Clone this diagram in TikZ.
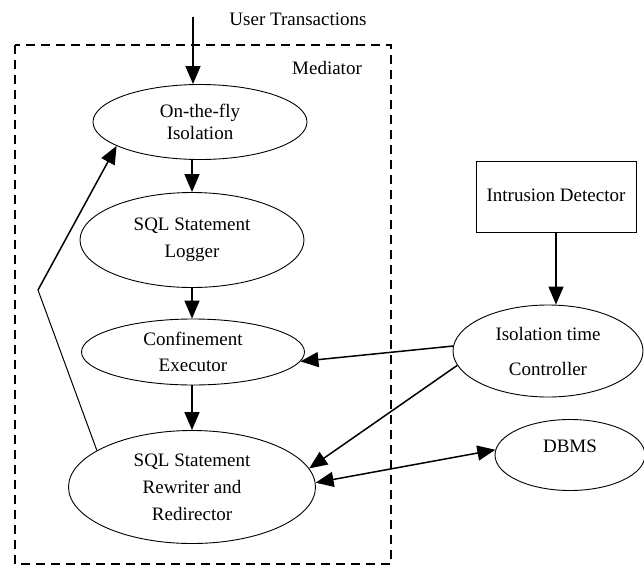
\documentclass[tikz,border=0pt]{standalone}
\usepackage{fontspec}
\setmainfont{Liberation Serif}
\usetikzlibrary{shapes.geometric,arrows.meta}

\begin{document}
\begin{tikzpicture}[x=1pt,y=-1pt,
  ell/.style={ellipse,draw,line width=0.9pt,inner sep=0pt,align=center},
  tip/.style={Triangle[length=18pt,width=15pt]},
  arr/.style={line width=1.5pt,-{Triangle[length=18pt,width=15pt]}},
  dblarr/.style={line width=1.5pt,{Triangle[length=18pt,width=15pt]}-{Triangle[length=18pt,width=15pt]}},
  txt/.style={font=\fontsize{19}{22}\selectfont},
  mediatorbox/.style={draw,line width=1.8pt,dash pattern=on 9pt off 6pt}]

\useasboundingbox (0,0) rectangle (644,567);

% the dashed mediator frame and its labels
\draw[mediatorbox] (15,45) rectangle (391,564);
\node[txt] (ut) at (298,19) {User Transactions};
\node[txt] (med) at (327,68) {Mediator};

% components inside the mediator
\node[ell,minimum width=214pt,minimum height=75pt,font=\fontsize{19}{22}\selectfont] (e1) at (200,122) {On-the-fly\\Isolation};
\node[ell,minimum width=224pt,minimum height=95pt,font=\fontsize{19}{27}\selectfont] (e2) at (192,240) {SQL Statement\\Logger};
\node[ell,minimum width=223pt,minimum height=66pt,font=\fontsize{19}{26}\selectfont] (e3) at (193,352) {Confinement\\Executor};
\node[ell,minimum width=247pt,minimum height=113pt,font=\fontsize{19}{27}\selectfont] (e4) at (192,487) {SQL Statement\\Rewriter and\\Redirector};

% external components
\node[draw,line width=0.9pt,minimum width=160pt,minimum height=71pt,txt] (id) at (556,197) {Intrusion Detector\\[-6pt]\strut};
\node[ell,minimum width=190pt,minimum height=92pt,font=\fontsize{19}{35}\selectfont] (c) at (548,351) {Isolation time\\Controller};
\node[ell,minimum width=150pt,minimum height=71pt,font=\fontsize{19}{22}\selectfont] (d) at (570,455) {DBMS\\[-12pt]\strut};

% transaction flow
\coordinate (in) at (193,17);
\draw[arr] (in) -- (in |- e1.north);
\draw[arr] (e2.north |- e1.south) -- (e2.north);
\draw[arr] (e2.south) -- (e2.south |- e3.north);
\draw[arr] (e2.south |- e3.south) -- (e2.south |- e4.north);

% feedback from the rewriter back to isolation
\coordinate (bend) at (38,290);
\draw[line width=1pt] (e4.159) -- (bend);
\draw[arr] (bend) -- (e1.196);

% detector and controller links
\draw[arr] (id.south) -- (id.south |- c.north);
\draw[arr] (c.177) -- (e3.-5);
\draw[arr] (c.189) -- (e4.9);
\draw[dblarr] (e4.2) -- (d.176);
\end{tikzpicture}
\end{document}
